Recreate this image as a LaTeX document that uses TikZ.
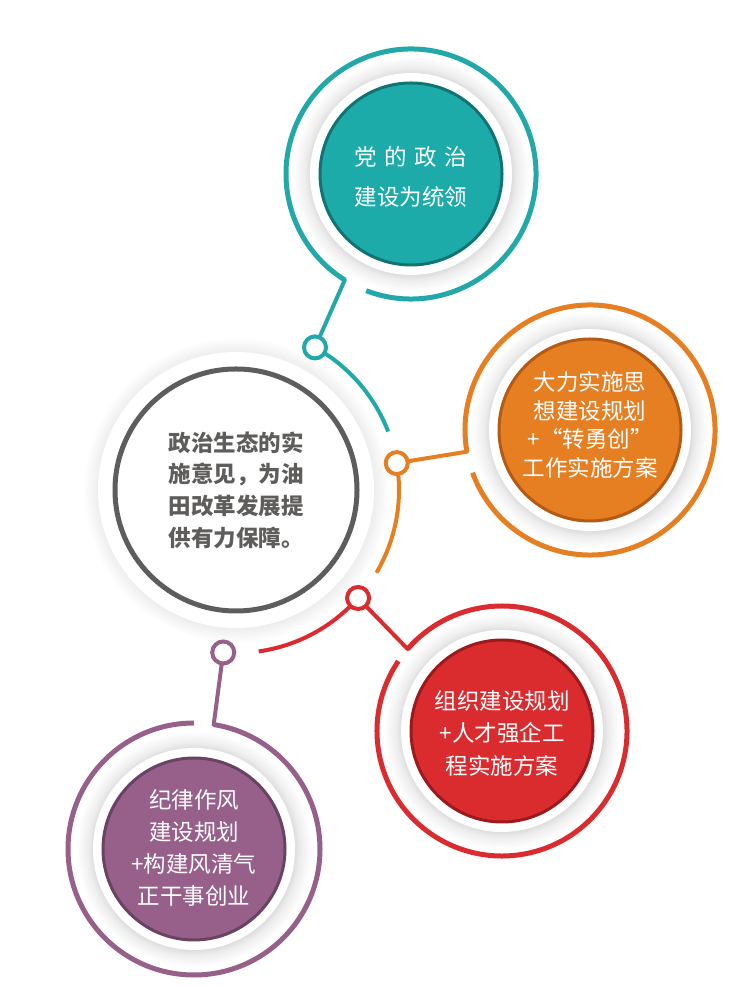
\documentclass[tikz,border=0pt]{standalone}
\usepackage{fontspec}
\newfontfamily\cjk{Noto Sans CJK SC}
\usetikzlibrary{calc}
\definecolor{tealc}{HTML}{1DABAA}
\definecolor{tealring}{HTML}{22A8A8}
\definecolor{tealdk}{HTML}{107473}
\definecolor{orangec}{HTML}{E67E22}
\definecolor{orangedk}{HTML}{B45A14}
\definecolor{redc}{HTML}{DA2B2F}
\definecolor{reddk}{HTML}{9C1A1E}
\definecolor{purplec}{HTML}{96608B}
\definecolor{purpledk}{HTML}{6A4262}
\definecolor{grayc}{HTML}{5E5D5C}
\pgfdeclareradialshading{halo}{\pgfpointorigin}{color(0bp)=(black!18); color(20.5bp)=(black!18); color(22.5bp)=(black!7); color(25bp)=(white); color(50bp)=(white)}
\begin{document}
\begin{tikzpicture}[x=1pt,y=1pt,
  ring/.style={draw=#1, line width=5pt},
  link/.style={draw=#1, line width=4pt},
  dot/.style={circle, draw=#1, line width=4pt, fill=white, minimum size=22pt, inner sep=0pt},
  core/.style={circle, fill=#1, line width=3pt, minimum size=182pt, inner sep=0pt},
  whitetxt/.style={text=white, align=center, font=\cjk\fontsize{22.5}{#1}\selectfont}
]
\useasboundingbox (0,0) rectangle (750,987);
% centres
\coordinate (C) at (236,497);
\coordinate (T) at (411,813);
\coordinate (O) at (590,557);
\coordinate (R) at (502,256);
\coordinate (P) at (194,138);
% halos and white discs
\shade[shading=halo] (C) circle (153pt);
\fill[white] (C) circle (138pt);
\foreach \c in {T,O,R,P}{
  \shade[shading=halo] (\c) circle (118pt);
  \fill[white] (\c) circle (101pt);
}
% outer rings with gaps
\draw[ring=tealring] (T) ++(249:125pt) arc[start angle=249, end angle=598, radius=125pt];
\draw[ring=orangec] (O) ++(200:125pt) arc[start angle=200, end angle=550, radius=125pt];
\draw[ring=redc] (R) ++(146:125pt) arc[start angle=146, end angle=499, radius=125pt];
\draw[ring=purplec] (P) ++(90:126pt) arc[start angle=90, end angle=441, radius=126pt];
% central ring
\node[circle, draw=grayc, line width=5pt, minimum size=242pt, inner sep=0pt] (cen) at (C) {};
% coloured cores
\node[core=tealc, draw=tealdk] (tcore) at (T) {};
\node[core=orangec, draw=orangedk] (ocore) at (O) {};
\node[core=redc, draw=reddk] (rcore) at (R) {};
\node[core=purplec, draw=purpledk] (pcore) at (P) {};
% small-circle centres and ring joints
\coordinate (ts) at ($(C)+(61:163pt)$);
\coordinate (os) at ($(C)+(9.5:163pt)$);
\coordinate (rs) at ($(C)+(-41.5:163pt)$);
\coordinate (ps) at ($(C)+(-94.5:163pt)$);
\coordinate (tj) at ($(T)+(238:125pt)$);
\coordinate (oj) at ($(O)+(190:125pt)$);
\coordinate (rj) at ($(R)+(139:125pt)$);
\coordinate (pj) at ($(P)+(81:126pt)$);
% arcs along the central circle
\draw[link=tealring] (ts) arc[start angle=61, end angle=21, radius=163pt];
\draw[link=orangec] (os) arc[start angle=9.5, end angle=-30.5, radius=163pt];
\draw[link=redc] (rs) arc[start angle=-41.5, end angle=-82, radius=163pt];
% connectors
\draw[link=tealring, line cap=round] (ts) -- (tj);
\draw[link=orangec, line cap=round] (os) -- (oj);
\draw[link=redc, line cap=round] (rs) -- (rj);
\draw[link=purplec, line cap=round] (ps) -- (pj);
% small circles
\node[dot=tealring] (tdot) at (ts) {};
\node[dot=orangec] (odot) at (os) {};
\node[dot=redc] (rdot) at (rs) {};
\node[dot=purplec] (pdot) at (ps) {};
% texts
\node[whitetxt=40] (ttxt) at ($(T)+(0,-3)$) {\makebox[5em]{党\hfill 的\hfill 政\hfill 治}\\建设为统领};
\node[whitetxt=28.5] (otxt) at ($(O)+(0,5)$) {大力实施思\\想建设规划\\+“转勇创”\\工作实施方案};
\node[whitetxt=32.5] (rtxt) at ($(R)+(0,-2)$) {组织建设规划\\+人才强企工\\程实施方案};
\node[whitetxt=31.7] (ptxt) at ($(P)+(0,1)$) {纪律作风\\建设规划\\+构建风清气\\正干事创业};
\node[text=grayc, align=center, font=\cjk\bfseries\fontsize{22.5}{31.7}\selectfont] (ctxt) at (C) {政治生态的实\\施意见，为油\\田改革发展提\\供有力保障。};
\end{tikzpicture}
\end{document}
